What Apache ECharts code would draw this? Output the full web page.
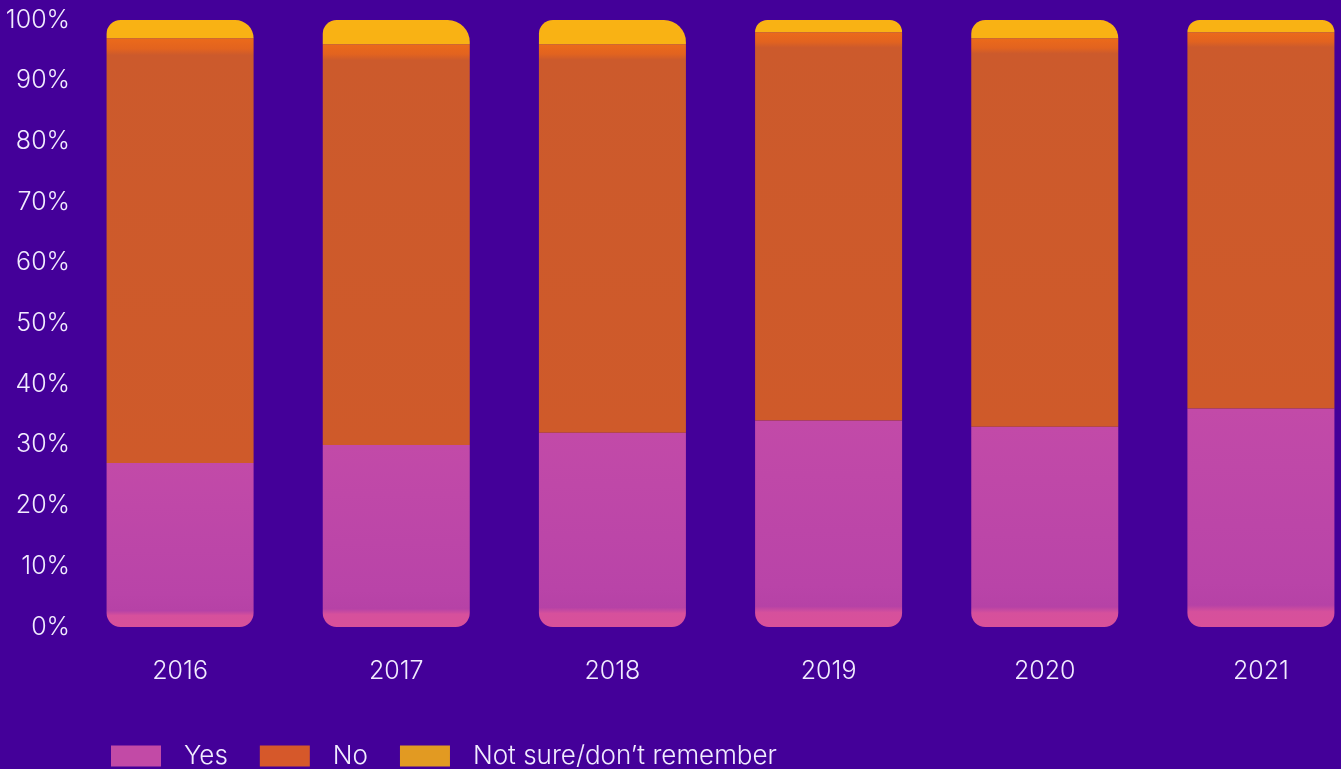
<!DOCTYPE html>
<html>
<head>
<meta charset="utf-8">
<title>Survey responses by year</title>
<script src="https://cdn.jsdelivr.net/npm/echarts@6/dist/echarts.min.js"></script>
<style>
  html, body { margin: 0; padding: 0; background: #440099; overflow: hidden; }
  /* the chart runs a little past the right edge of the window */
  #chart { width: 1369px; height: 769px; }
</style>
</head>
<body>
<div id="chart"></div>
<script>
// Share of respondents per answer, in percent
const years = ['2016', '2017', '2018', '2019', '2020', '2021'];
const yesValues = [27, 30, 32, 34, 33, 36];
const noValues = [70, 66, 64, 64, 64, 62];
const notSureValues = [3, 4, 4, 2, 3, 2];
const yTicks = [0, 10, 20, 30, 40, 50, 60, 70, 80, 90, 100];

const textColor = '#f2ecff';
const fontFamily = 'Inter, "Noto Sans", sans-serif';

const chart = echarts.init(document.getElementById('chart'), null, { renderer: 'canvas' });

function vGrad(stops) {
  return new echarts.graphic.LinearGradient(0, 0, 0, 1, stops.map(([o, c]) => ({ offset: o, color: c })));
}

chart.setOption({
  backgroundColor: '#440099',
  animation: false,
  grid: { left: 72, top: 20, right: 0, bottom: 142, containLabel: false },
  xAxis: {
    type: 'category',
    data: years,
    axisLine: { show: false },
    axisTick: { show: false },
    axisLabel: { color: textColor, fontSize: 25, fontWeight: 300, fontFamily, margin: 32 }
  },
  yAxis: {
    type: 'value',
    min: yTicks[0],
    max: yTicks[yTicks.length - 1],
    interval: 10,
    splitLine: { show: false },
    axisLine: { show: false },
    axisTick: { show: false },
    axisLabel: {
      color: textColor, fontSize: 25, fontWeight: 300, fontFamily, margin: 2,
      formatter: v => v + '%'
    }
  },
  legend: {
    left: 106,
    top: 738,
    itemWidth: 50,
    itemHeight: 21,
    itemGap: 32,
    icon: 'rect',
    textStyle: { color: textColor, fontSize: 26, fontWeight: 300, fontFamily, padding: [0, 0, 0, 18] },
    data: [
      { name: 'Yes', itemStyle: { color: '#c24aa6' } },
      { name: 'No', itemStyle: { color: '#d6582a' } },
      { name: 'Not sure/don’t remember', itemStyle: { color: '#e29a22' } }
    ]
  },
  series: [
    {
      name: 'Yes',
      type: 'bar',
      stack: 'total',
      barWidth: 147,
      data: yesValues,
      itemStyle: {
        color: vGrad([[0, '#c24aa8'], [0.8, '#b944a8'], [0.9, '#b642a6'], [0.93, '#d6509c'], [1, '#d9509a']]),
        borderRadius: [0, 0, 14, 14]
      }
    },
    {
      name: 'No',
      type: 'bar',
      stack: 'total',
      barWidth: 147,
      data: noValues,
      itemStyle: {
        color: vGrad([[0, '#ec6a1a'], [0.025, '#e2631f'], [0.04, '#cc5a2c'], [1, '#cf5a2a']])
      }
    },
    {
      name: 'Not sure/don’t remember',
      type: 'bar',
      stack: 'total',
      barWidth: 147,
      data: notSureValues,
      itemStyle: { color: '#f9b214', borderRadius: [14, 22, 0, 0] }
    }
  ]
});
</script>
</body>
</html>
